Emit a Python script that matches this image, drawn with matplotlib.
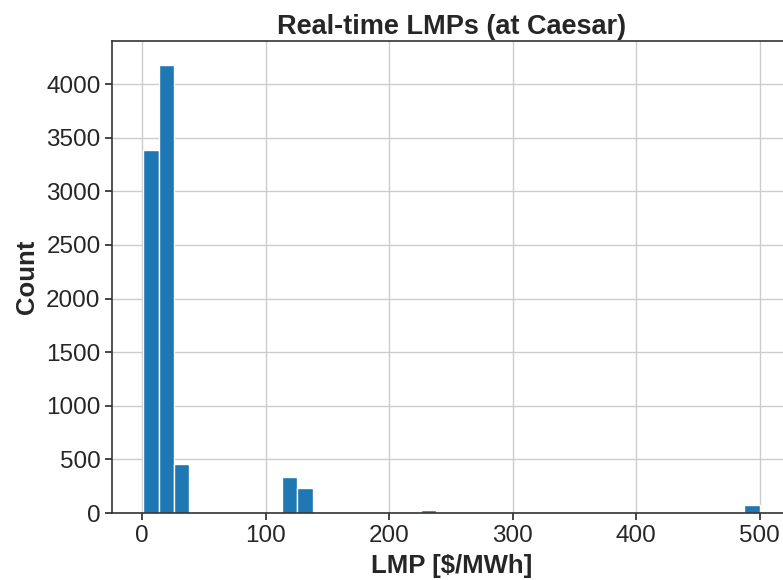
import numpy as np
import matplotlib
matplotlib.use('Agg')
import matplotlib.pyplot as plt
import seaborn as sns

# histogram of real-time LMPs: 40 equal bins between the min and max price
lmp_min = 1.0
lmp_max = 500.0
n_bins = 40
bin_counts = [3385, 4175, 457, 0, 0, 0, 0, 0, 0, 339,
              230, 0, 0, 0, 0, 0, 0, 0, 25, 0,
              0, 0, 0, 0, 0, 0, 0, 0, 0, 0,
              0, 0, 0, 0, 0, 0, 0, 0, 0, 75]

sns.set_style('ticks', {'axes.grid': True})
plt.rcParams['font.family'] = ['Liberation Sans', 'DejaVu Sans']

edges = np.linspace(lmp_min, lmp_max, n_bins + 1)
centers = 0.5 * (edges[:-1] + edges[1:])

fig = plt.figure(figsize=(7.83, 5.8), dpi=100)
ax = fig.add_axes([0.1435, 0.1155, 0.866, 0.8135])
ax.hist(centers, bins=edges, weights=bin_counts, color='#1f77b4',
        edgecolor='white', linewidth=1.0)

ax.set_xlim(-24.0, 525.0)
ax.set_ylim(0, 4400)
ax.set_xticks([0, 100, 200, 300, 400, 500])
ax.set_yticks(np.arange(0, 4001, 500))
ax.grid(True, color='#cccccc', linewidth=1.0)
ax.set_axisbelow(True)
for s in ax.spines.values():
    s.set_color('#333333')
    s.set_linewidth(1.2)
ax.tick_params(labelsize=17.5, colors='#262626', length=5, width=1.2,
               direction='out')

ax.set_title('Real-time LMPs (at Caesar)', fontsize=19.5, fontweight='bold',
             color='#262626', pad=5)
ax.set_xlabel('LMP [$/MWh]', fontsize=18.5, fontweight='bold', color='#262626',
              labelpad=5)
ax.set_ylabel('Count', fontsize=18.5, fontweight='bold', color='#262626',
              labelpad=5)

plt.savefig('out.png', dpi=100)
